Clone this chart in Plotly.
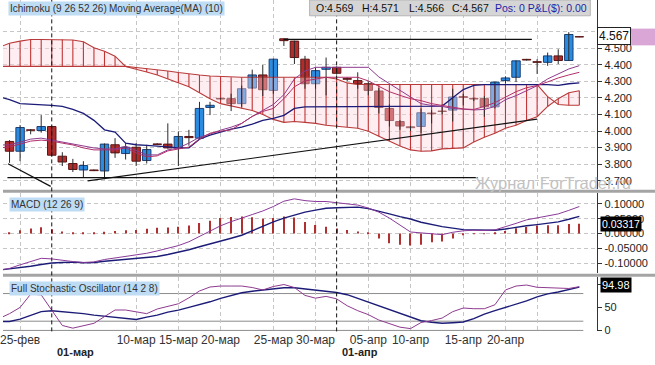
import plotly.graph_objects as go

W, H = 655, 365
XR = 597 / W


def py(px):
    return 1 - px / H


def pxx(px):
    return px / W

# ---------------- data ----------------
# bar index (0 = 01-мар); weekly Sunday bars included, Saturdays skipped
idx_candles = list(range(-4, 51))
idx_lines = list(range(-5, 51))

opens = [3.937, 3.878, 4.007, 4.003, 4.027, 3.848, 3.804, 3.765, 3.765, 3.759,
         3.917, 3.864, 3.902, 3.822, 3.922, 3.921, 3.898, 3.967, 3.957, 4.142,
         4.197, 4.195, 4.165, 4.259, 4.338, 4.245, 4.556, 4.542, 4.433, 4.285,
         4.372, 4.384, 4.316, 4.304, 4.285, 4.241, 4.136, 4.057, 4.025, 4.027,
         4.108, 4.120, 4.126, 4.207, 4.197, 4.195, 4.146, 4.304, 4.324, 4.432,
         4.418, 4.414, 4.453, 4.425, 4.569]
highs = [3.945, 4.036, 4.012, 4.096, 4.032, 3.872, 3.832, 3.818, 3.768, 3.925,
         3.957, 3.927, 3.927, 3.917, 3.926, 4.046, 3.997, 4.007, 4.176, 4.176,
         4.200, 4.225, 4.274, 4.370, 4.398, 4.436, 4.558, 4.545, 4.453, 4.384,
         4.443, 4.390, 4.324, 4.354, 4.300, 4.260, 4.160, 4.065, 4.030, 4.136,
         4.126, 4.160, 4.255, 4.225, 4.200, 4.210, 4.297, 4.330, 4.425, 4.435,
         4.433, 4.473, 4.493, 4.596, 4.571]
lows = [3.808, 3.818, 3.980, 3.990, 3.845, 3.789, 3.753, 3.719, 3.758, 3.709,
        3.838, 3.828, 3.789, 3.804, 3.915, 3.893, 3.789, 3.911, 3.955, 4.096,
        4.190, 4.120, 4.146, 4.255, 4.211, 4.225, 4.513, 4.404, 4.255, 4.255,
        4.215, 4.340, 4.300, 4.255, 4.215, 4.106, 4.027, 4.007, 4.000, 3.987,
        4.046, 4.100, 4.057, 4.155, 4.180, 4.086, 4.136, 4.285, 4.295, 4.425,
        4.344, 4.393, 4.404, 4.423, 4.566]
closes = [3.878, 4.021, 4.004, 4.027, 3.854, 3.813, 3.768, 3.792, 3.761, 3.921,
          3.868, 3.902, 3.818, 3.888, 3.919, 3.898, 3.967, 3.960, 4.136, 4.155,
          4.193, 4.165, 4.255, 4.338, 4.249, 4.433, 4.545, 4.443, 4.285, 4.364,
          4.384, 4.348, 4.312, 4.285, 4.245, 4.142, 4.063, 4.030, 4.020, 4.110,
          4.104, 4.118, 4.205, 4.203, 4.193, 4.146, 4.295, 4.320, 4.423, 4.428,
          4.414, 4.453, 4.425, 4.582, 4.567]

senkou_a = [4.505, 4.529, 4.542, 4.552, 4.552, 4.552, 4.552, 4.549, 4.538, 4.502,
            4.481, 4.451, 4.389, 4.374, 4.356, 4.338, 4.314, 4.290, 4.267, 4.231,
            4.195, 4.165, 4.151, 4.136, 4.124, 4.100, 4.070, 4.052, 4.057, 4.052,
            4.046, 4.035, 4.027, 4.023, 4.017, 3.999, 3.969, 3.939, 3.910, 3.886,
            3.878, 3.880, 3.892, 3.895, 3.898, 3.933, 3.963, 3.987, 4.017, 4.035,
            4.064, 4.086, 4.148, 4.195, 4.231, 4.243]
senkou_b = [4.390, 4.390, 4.390, 4.390, 4.390, 4.390, 4.390, 4.390, 4.390, 4.390,
            4.390, 4.390, 4.390, 4.383, 4.377, 4.368, 4.362, 4.353, 4.344, 4.338,
            4.332, 4.328, 4.324, 4.324, 4.324, 4.324, 4.324, 4.324, 4.324, 4.324,
            4.324, 4.324, 4.314, 4.290, 4.280, 4.280, 4.280, 4.280, 4.280, 4.280,
            4.280, 4.280, 4.280, 4.280, 4.280, 4.280, 4.280, 4.280, 4.280, 4.280,
            4.280, 4.280, 4.207, 4.160, 4.155, 4.155]
kijun = [4.207, 4.189, 4.165, 4.163, 4.160, 4.155, 4.148, 4.130, 4.106, 4.064,
         4.007, 3.993, 3.927, 3.917, 3.913, 3.910, 3.904, 3.898, 3.898, 3.951,
         3.975, 3.993, 4.011, 4.023, 4.041, 4.064, 4.076, 4.094, 4.136, 4.146,
         4.146, 4.146, 4.146, 4.146, 4.146, 4.146, 4.146, 4.146, 4.146, 4.146,
         4.146, 4.146, 4.150, 4.200, 4.250, 4.275, 4.280, 4.280, 4.280, 4.280,
         4.280, 4.280, 4.280, 4.275, 4.285, 4.290]
tenkan = [3.916, 3.916, 3.933, 3.951, 3.957, 3.945, 3.933, 3.921, 3.910, 3.898,
          3.892, 3.892, 3.908, 3.880, 3.856, 3.856, 3.886, 3.898, 3.927, 3.963,
          3.981, 4.005, 4.023, 4.046, 4.088, 4.124, 4.160, 4.219, 4.314, 4.362,
          4.384, 4.384, 4.384, 4.384, 4.384, 4.384, 4.326, 4.285, 4.243, 4.201,
          4.165, 4.154, 4.148, 4.136, 4.130, 4.127, 4.130, 4.148, 4.189, 4.213,
          4.243, 4.273, 4.314, 4.344, 4.374, 4.394]
ma10 = [3.898, 3.904, 3.921, 3.939, 3.945, 3.939, 3.927, 3.916, 3.898, 3.886,
        3.886, 3.886, 3.898, 3.868, 3.844, 3.850, 3.880, 3.892, 3.903, 3.951,
        3.987, 3.999, 4.007, 4.046, 4.088, 4.118, 4.136, 4.195, 4.267, 4.302,
        4.314, 4.324, 4.324, 4.324, 4.324, 4.302, 4.267, 4.237, 4.215, 4.195,
        4.183, 4.165, 4.154, 4.142, 4.133, 4.130, 4.148, 4.171, 4.205, 4.237,
        4.261, 4.274, 4.296, 4.320, 4.338, 4.354]

macd = [-0.124, -0.118, -0.106, -0.094, -0.084, -0.086, -0.091, -0.095, -0.098, -0.096,
        -0.088, -0.083, -0.078, -0.074, -0.067, -0.059, -0.051, -0.041, -0.028, -0.010,
        0.007, 0.026, 0.040, 0.051, 0.064, 0.076, 0.091, 0.109, 0.117, 0.111,
        0.108, 0.108, 0.104, 0.100, 0.096, 0.086, 0.072, 0.052, 0.029, 0.005,
        0.002, -0.002, -0.004, 0.004, 0.009, 0.011, 0.010, 0.012, 0.022, 0.034,
        0.046, 0.052, 0.059, 0.066, 0.078, 0.091]
macd_signal = [-0.124, -0.120, -0.117, -0.111, -0.105, -0.100, -0.098, -0.097, -0.099, -0.098,
               -0.094, -0.091, -0.089, -0.086, -0.083, -0.078, -0.071, -0.064, -0.055, -0.045,
               -0.036, -0.026, -0.016, -0.006, 0.009, 0.026, 0.039, 0.052, 0.063, 0.072,
               0.079, 0.085, 0.087, 0.088, 0.089, 0.084, 0.076, 0.066, 0.057, 0.049,
               0.038, 0.030, 0.023, 0.018, 0.013, 0.012, 0.011, 0.011, 0.015, 0.021,
               0.026, 0.030, 0.034, 0.039, 0.048, 0.058]
macd_hist = [0.000, 0.002, 0.011, 0.017, 0.021, 0.014, 0.007, 0.002, 0.001, 0.002,
             0.006, 0.008, 0.011, 0.012, 0.016, 0.019, 0.020, 0.023, 0.027, 0.035,
             0.043, 0.052, 0.056, 0.057, 0.055, 0.050, 0.052, 0.057, 0.054, 0.039,
             0.029, 0.023, 0.017, 0.012, 0.007, 0.002, -0.017, -0.033, -0.038, -0.041,
             -0.038, -0.030, -0.027, -0.017, -0.006, -0.002, -0.001, 0.002, 0.008, 0.018,
             0.022, 0.027, 0.028, 0.028, 0.032, 0.033]

stoch_k = [25.7, 36.4, 49.9, 78.6, 77.1, 45.0, 10.7, 4.9, 9.6, 15.4,
           30.0, 44.3, 44.3, 39.6, 36.4, 46.5, 51.4, 57.8, 70.7, 85.6,
           94.2, 96.3, 96.3, 96.3, 93.1, 87.8, 95.3, 99.6, 93.1, 76.0,
           70.0, 73.9, 68.5, 53.5, 42.8, 34.3, 22.5, 15.0, 7.1, 3.9,
           17.1, 21.4, 26.8, 40.7, 48.6, 47.1, 47.1, 55.7, 87.8, 96.3,
           98.5, 93.6, 92.7, 92.7, 91.0, 95.0]
stoch_d = [19.3, 19.3, 24.6, 33.2, 40.7, 42.8, 41.1, 38.5, 36.4, 33.2,
           30.6, 27.8, 25.3, 23.6, 28.9, 33.2, 39.6, 43.9, 49.9, 55.7,
           62.1, 69.6, 76.0, 81.8, 85.0, 87.8, 90.4, 92.7, 92.7, 89.9,
           87.1, 85.6, 82.4, 77.5, 69.6, 62.1, 53.5, 45.4, 37.5, 28.9,
           21.0, 17.6, 15.6, 16.7, 18.2, 25.7, 35.3, 42.8, 49.9, 56.7,
           64.2, 72.8, 79.2, 83.5, 88.9, 94.0]
stoch_levels = [0, 20, 80]

# user-drawn trend lines (bar index, price)
trend_res_x, trend_res_y = [22, 45.5], [4.552, 4.552]
trend_sup_x, trend_sup_y = [-4.2, 40.4], [3.719, 3.719]
trend_up_x, trend_up_y = [3.4, 46.0], [3.699, 4.072]
trend_dn_x, trend_dn_y = [-4.15, -0.1], [3.802, 3.666]

# axis ticks
tick_idx = [-3, 8, 12, 16, 21, 25, 30, 34, 39, 43, 46]
tick_text = ["25-фев", "10-мар", "15-мар", "20-мар", "25-мар", "30-мар",
             "05-апр", "10-апр", "15-апр", "20-апр", ""]
month_idx = [0, 27]
month_text = ["01-мар", "01-апр"]
price_ticks = [3.7, 3.8, 3.9, 4.0, 4.1, 4.2, 4.3, 4.4, 4.5, 4.6]
macd_ticks = [-0.1, -0.05, 0.0, 0.05, 0.1]
macd_tick_text = ["-0.10000", "-0.05000", "0.00000", "0.05000", "0.10000"]
stoch_ticks = [0, 50, 100]

last_price = "4.567"
last_macd = "0.03317"
last_stoch = "94.98"
ohlc_text = ["O:4.569", "H:4.571", "L:4.566", "C:4.567"]
pos_text = "Pos: 0 P&L($): 0.00"

# ---------------- figure ----------------
FONT = "Liberation Sans, Arial, sans-serif"
fig = go.Figure()

# Ichimoku cloud
fig.add_trace(go.Scatter(x=idx_lines, y=senkou_b, mode="lines",
                         line=dict(color="#b83a3a", width=1.1), xaxis="x", yaxis="y"))
fig.add_trace(go.Scatter(x=idx_lines, y=senkou_a, mode="lines",
                         line=dict(color="#b83a3a", width=1.1), fill="tonexty",
                         fillcolor="rgba(252,214,224,0.42)", xaxis="x", yaxis="y"))
hx, hy = [], []
for i, a, b in zip(idx_lines, senkou_a, senkou_b):
    hx += [i, i, None]
    hy += [a, b, None]
fig.add_trace(go.Scatter(x=hx, y=hy, mode="lines", line=dict(color="#c03434", width=1.1),
                         xaxis="x", yaxis="y"))

# candles: wicks then bodies
wx, wy = [], []
for i, h, l in zip(idx_candles, highs, lows):
    wx += [i, i, None]
    wy += [l, h, None]
fig.add_trace(go.Scatter(x=wx, y=wy, mode="lines", line=dict(color="#2a2a2a", width=1),
                         xaxis="x", yaxis="y"))
bases = [min(o, c) for o, c in zip(opens, closes)]
heights = [abs(c - o) for o, c in zip(opens, closes)]
fills = ["#2b8be0" if c > o else "#b32c2c" for o, c in zip(opens, closes)]
edges = ["#1d3f73" if c > o else "#5e1414" for o, c in zip(opens, closes)]
fig.add_trace(go.Bar(x=idx_candles, y=heights, base=bases, width=0.8,
                     marker=dict(color=fills, line=dict(color=edges, width=1)),
                     xaxis="x", yaxis="y"))

# indicator lines
fig.add_trace(go.Scatter(x=idx_lines, y=kijun, mode="lines",
                         line=dict(color="#1c1c78", width=1.3), xaxis="x", yaxis="y"))
fig.add_trace(go.Scatter(x=idx_lines, y=tenkan, mode="lines",
                         line=dict(color="#8e3a8e", width=1), xaxis="x", yaxis="y"))
fig.add_trace(go.Scatter(x=idx_lines, y=ma10, mode="lines",
                         line=dict(color="#b0306a", width=1), xaxis="x", yaxis="y"))

# trend lines
for tx, ty in [(trend_res_x, trend_res_y), (trend_sup_x, trend_sup_y),
               (trend_up_x, trend_up_y), (trend_dn_x, trend_dn_y)]:
    fig.add_trace(go.Scatter(x=tx, y=ty, mode="lines", line=dict(color="#111111", width=1.2),
                             xaxis="x", yaxis="y"))

# MACD
fig.add_trace(go.Bar(x=idx_lines, y=macd_hist, width=0.11,
                     marker=dict(color="#b03030", line=dict(width=0)), xaxis="x2", yaxis="y2"))
fig.add_trace(go.Scatter(x=idx_lines, y=macd_signal, mode="lines",
                         line=dict(color="#1c1c78", width=1.4), xaxis="x2", yaxis="y2"))
fig.add_trace(go.Scatter(x=idx_lines, y=macd, mode="lines",
                         line=dict(color="#8a3a9a", width=1), xaxis="x2", yaxis="y2"))

# Stochastic
fig.add_trace(go.Scatter(x=idx_lines, y=stoch_d, mode="lines",
                         line=dict(color="#1c1c78", width=1.4), xaxis="x3", yaxis="y3"))
fig.add_trace(go.Scatter(x=idx_lines, y=stoch_k, mode="lines",
                         line=dict(color="#8e3a8e", width=1), xaxis="x3", yaxis="y3"))

# ---------------- axes ----------------
grid_dash = "4px,3px"
gcol = "#c6c6c6"
xcommon = dict(range=[-4.62, 51.7], domain=[0, XR], tickvals=tick_idx, showgrid=True,
               gridcolor=gcol, griddash=grid_dash, gridwidth=1, zeroline=False,
               showline=False, ticks="", fixedrange=True)
ycommon = dict(side="right", showline=True, linecolor="#333333", linewidth=1,
               ticks="outside", ticklen=4, tickcolor="#333333", zeroline=False,
               tickfont=dict(size=11, color="#222222", family=FONT), fixedrange=True)

fig.update_layout(
    width=W, height=H, margin=dict(l=0, r=0, t=0, b=0),
    paper_bgcolor="white", plot_bgcolor="white", showlegend=False,
    barmode="overlay", font=dict(family=FONT, size=11, color="#222222"),
    xaxis=dict(**xcommon, anchor="y", showticklabels=False),
    xaxis2=dict(**xcommon, anchor="y2", showticklabels=False, matches="x"),
    xaxis3=dict(**xcommon, anchor="y3", matches="x", showticklabels=True,
                ticktext=tick_text, ticklabeloverflow="allow",
                tickfont=dict(size=12, color="#333333", family=FONT)),
    yaxis=dict(**ycommon, anchor="x", domain=[py(192), 1], range=[3.648, 4.790],
               tickvals=price_ticks, ticktext=[f"{v:.3f}" for v in price_ticks],
               showgrid=True, gridcolor=gcol, griddash=grid_dash),
    yaxis2=dict(**ycommon, anchor="x2", domain=[py(277), py(196)], range=[-0.1343, 0.1357],
                tickvals=macd_ticks, ticktext=macd_tick_text,
                showgrid=True, gridcolor=gcol, griddash=grid_dash),
    yaxis3=dict(**ycommon, anchor="x3", domain=[py(335.5), py(281)], range=[-1.07, 115.6],
                tickvals=stoch_ticks, ticktext=[str(v) for v in stoch_ticks], showgrid=False),
)

shapes = []
# panel separators
for top, bot in [(192.5, 195.5), (277.5, 280.5)]:
    shapes.append(dict(type="rect", xref="paper", yref="paper", x0=0, x1=1,
                       y0=py(bot), y1=py(top), fillcolor="#a4a4a4", line=dict(width=0),
                       layer="above"))
# stochastic levels
for lv in stoch_levels:
    shapes.append(dict(type="line", xref="x3 domain", yref="y3", x0=0, x1=583 / 597,
                       y0=lv, y1=lv, line=dict(color="#8c8c8c", width=1), layer="below"))
# month separators
for m in month_idx:
    shapes.append(dict(type="line", xref="x", yref="paper", x0=m, x1=m, y0=py(336), y1=1,
                       line=dict(color="#111111", width=1, dash=grid_dash), layer="above"))
# OHLC header bar
shapes.append(dict(type="rect", xref="paper", yref="paper", x0=pxx(308), x1=pxx(590),
                   y0=py(16), y1=1, fillcolor="#d5d5d5", line=dict(color="#b5b5b5", width=1),
                   layer="above"))
# last price pink marker
shapes.append(dict(type="rect", xref="paper", yref="paper", x0=pxx(631), x1=1,
                   y0=py(46), y1=py(29), fillcolor="#d9a6d6", line=dict(width=0), layer="above"))
fig.update_layout(shapes=shapes)

ann = []


def label(text, x, y, bg=None, color="#333333", size=10, anchor="left", border=None):
    d = dict(text=text, xref="paper", yref="paper",
             x=pxx(x), y=py(y), xanchor=anchor, yanchor="middle", showarrow=False,
             font=dict(size=size, color=color, family=FONT), borderpad=1)
    if bg:
        d["bgcolor"] = bg
    if border:
        d["bordercolor"] = border
        d["borderwidth"] = 1
    ann.append(d)


label("Ichimoku (9 26 52 26)", 5, 9, bg="#bedcf3")
label("Moving Average(MA) (10)", 104, 9, bg="#bedcf3")
label("MACD (12 26 9)", 6, 207, bg="#bedcf3")
label("Full Stochastic Oscillator (14 2 8)", 6, 292, bg="#bedcf3")
for t, xp in zip(ohlc_text, [312, 359, 406, 449]):
    label(t, xp, 8, color="#111111", size=10.5)
label(pos_text, 492, 8, color="#1f1fa8", size=10.5)
label(last_price, 597, 37, bg="white", color="#111111", size=12, border="#222222")
label(last_macd, 600, 227, bg="#000000", color="white", size=10.5)
label(last_stoch, 600, 289, bg="#000000", color="white", size=11)
label("Журнал ForTrader.ru", 472, 186, color="#c2c2c2", size=16.5)
for m, t in zip(month_idx, month_text):
    ann.append(dict(text=f"<b>{t}</b>", xref="x3", yref="paper", x=m, y=py(357),
                    xanchor="left", xshift=3, yanchor="middle", showarrow=False,
                    font=dict(size=11, color="#222222", family=FONT)))
fig.update_layout(annotations=ann)

fig.write_html("out.html", config={"displayModeBar": False, "displaylogo": False},
               post_script="document.body.style.margin='0px';document.body.style.padding='0px';")
